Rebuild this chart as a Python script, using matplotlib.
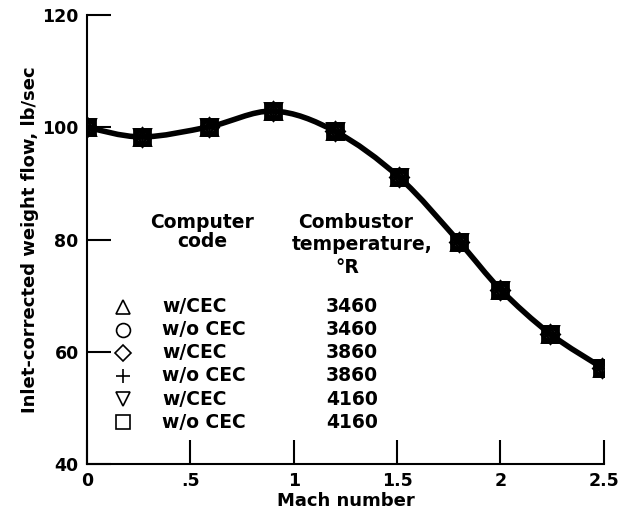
"""Inlet-corrected weight flow vs Mach number, with and without CEC."""

import matplotlib
matplotlib.use('Agg')
import matplotlib.pyplot as plt
from matplotlib.path import Path
from matplotlib.patches import PathPatch

# data (all six cases fall on the same points)
mach = [0.0, 0.265, 0.59, 0.90, 1.20, 1.51, 1.80, 2.00, 2.24, 2.49]
flow = [100.0, 98.3, 100.1, 102.9, 99.3, 91.1, 79.6, 71.1, 63.2, 57.2]

markers = ['^', 'o', 'D', '+', 'v', 's']
codes = ['w/CEC', 'w/o CEC', 'w/CEC', 'w/o CEC', 'w/CEC', 'w/o CEC']
temps = ['3460', '3460', '3860', '3860', '4160', '4160']
msizes = [11, 11, 9, 12, 11, 11]

xticks = [0, 0.5, 1, 1.5, 2, 2.5]
xticklabels = ['0', '.5', '1', '1.5', '2', '2.5']
yticks = [40, 60, 80, 100, 120]

plt.rcParams['font.family'] = ['DejaVu Sans']
plt.rcParams['font.weight'] = 'bold'
FONTSIZE = 12.5
KEYSIZE = 13.5

fig = plt.figure(figsize=(6.19, 5.23), dpi=100)
ax = fig.add_axes([0.1405, 0.1128, 0.835, 0.8582])

# faired curve through the points (Catmull-Rom drawn as cubic Bezier path)
verts = [(mach[0], flow[0])]
codes_path = [Path.MOVETO]
n = len(mach)
for i in range(n - 1):
    p0 = (mach[max(i - 1, 0)], flow[max(i - 1, 0)])
    p1 = (mach[i], flow[i])
    p2 = (mach[i + 1], flow[i + 1])
    p3 = (mach[min(i + 2, n - 1)], flow[min(i + 2, n - 1)])
    c1 = (p1[0] + (p2[0] - p0[0]) / 6, p1[1] + (p2[1] - p0[1]) / 6)
    c2 = (p2[0] - (p3[0] - p1[0]) / 6, p2[1] - (p3[1] - p1[1]) / 6)
    verts += [c1, c2, p2]
    codes_path += [Path.CURVE4] * 3
ax.add_patch(PathPatch(Path(verts, codes_path), fill=False, lw=4,
                       edgecolor='black', capstyle='round', zorder=2))

for m, ms in zip(markers, msizes):
    ax.plot(mach, flow, linestyle='', marker=m, ms=ms, mfc='none',
            mec='black', mew=2, zorder=3)

ax.set_xlim(0, 2.5)
ax.set_ylim(40, 120)
ax.set_xticks(xticks)
ax.set_xticklabels(xticklabels)
ax.set_yticks(yticks)
ax.tick_params(direction='in', length=17, width=1.5, labelsize=FONTSIZE, pad=6)
for lab in ax.get_xticklabels() + ax.get_yticklabels():
    lab.set_fontweight('bold')
ax.spines['top'].set_visible(False)
ax.spines['right'].set_visible(False)
ax.spines['left'].set_linewidth(1.5)
ax.spines['bottom'].set_linewidth(1.5)

ax.set_xlabel('Mach number', fontsize=13, fontweight='bold', labelpad=1)
ax.set_ylabel('Inlet-corrected weight flow, lb/sec', fontsize=13,
              fontweight='bold', labelpad=2)

# key as a small table
ax.text(0.2235, 0.517, 'Computer\ncode', transform=ax.transAxes, ha='center',
        va='center', fontsize=KEYSIZE, fontweight='bold', linespacing=1.05)
ax.text(0.520, 0.539, 'Combustor', transform=ax.transAxes, ha='center',
        va='center', fontsize=KEYSIZE, fontweight='bold')
ax.text(0.532, 0.488, 'temperature,', transform=ax.transAxes, ha='center',
        va='center', fontsize=KEYSIZE, fontweight='bold')
ax.text(0.503, 0.437, '°R', transform=ax.transAxes, ha='center',
        va='center', fontsize=KEYSIZE, fontweight='bold')
y0 = 0.350
dy = 0.0513
for i in range(len(markers)):
    yy = y0 - i * dy
    ax.plot([0.069], [yy], transform=ax.transAxes, marker=markers[i],
            ms=10 if markers[i] != 'D' else 8, mfc='none', mec='black',
            mew=1.2, linestyle='', clip_on=False)
    ax.text(0.146, yy, codes[i], transform=ax.transAxes, ha='left',
            va='center', fontsize=KEYSIZE, fontweight='bold')
    ax.text(0.5125, yy, temps[i], transform=ax.transAxes, ha='center',
            va='center', fontsize=KEYSIZE, fontweight='bold')

plt.savefig('out.png', dpi=100)
